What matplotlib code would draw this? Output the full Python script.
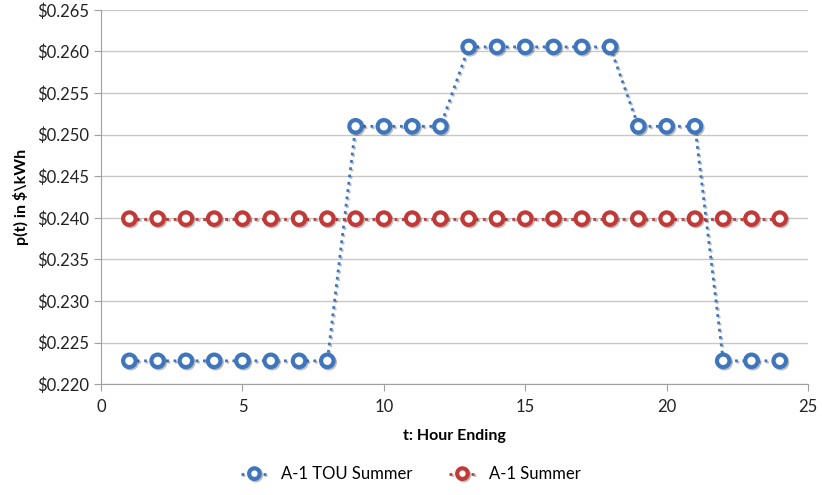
import matplotlib
matplotlib.use("Agg")
import matplotlib.pyplot as plt
from matplotlib.ticker import FuncFormatter, MultipleLocator
import matplotlib.patheffects as pe

plt.rcParams['font.family'] = ['Lato', 'DejaVu Sans']

hours = list(range(1, 25))
tou_summer = [0.2228] * 8 + [0.2510] * 4 + [0.26055] * 6 + [0.2510] * 3 + [0.2228] * 3
flat_summer = [0.2399] * 24

blue = "#3f75bd"
red = "#c23a38"

fig = plt.figure(figsize=(8.22, 4.95), dpi=100)
ax = fig.add_axes([0.123, 0.224, 0.860, 0.756])

shadow = [pe.SimpleLineShadow(offset=(1, -1), alpha=0.25), pe.Normal()]
ax.plot(hours, tou_summer, linestyle=":", linewidth=2.0, color=blue,
        marker="o", markersize=9, markerfacecolor="white", markeredgewidth=3,
        markeredgecolor=blue, label="A-1 TOU Summer", zorder=3, path_effects=shadow)
ax.plot(hours, flat_summer, linestyle=":", linewidth=2.0, color=red,
        marker="o", markersize=9, markerfacecolor="white", markeredgewidth=3,
        markeredgecolor=red, label="A-1 Summer", zorder=3, path_effects=shadow)

ax.set_xlim(0, 25)
ax.set_ylim(0.220, 0.265)
ax.xaxis.set_major_locator(MultipleLocator(5))
ax.yaxis.set_major_locator(MultipleLocator(0.005))
ax.yaxis.set_major_formatter(FuncFormatter(lambda v, p: "\\$%.3f" % v))

ax.grid(axis="y", color="#c8c8c8", linewidth=1)
ax.set_axisbelow(True)
for s in ["top", "right"]:
    ax.spines[s].set_visible(False)
for s in ["left", "bottom"]:
    ax.spines[s].set_color("#a0a0a0")
ax.tick_params(axis="both", colors="#a0a0a0", labelcolor="#222222", labelsize=12, length=5)
ax.tick_params(axis="x", pad=6)

ax.set_xlabel("t: Hour Ending", fontsize=11.5, fontweight="bold", labelpad=10)
ax.set_ylabel("p(t) in \\$\\kWh", fontsize=11.5, fontweight="bold", labelpad=6)

fig.legend(loc="lower center", bbox_to_anchor=(0.5, -0.005), ncol=2, frameon=False,
           fontsize=12, handlelength=1.6, columnspacing=2.2, markerscale=0.85)

fig.savefig("out.png", dpi=100)
